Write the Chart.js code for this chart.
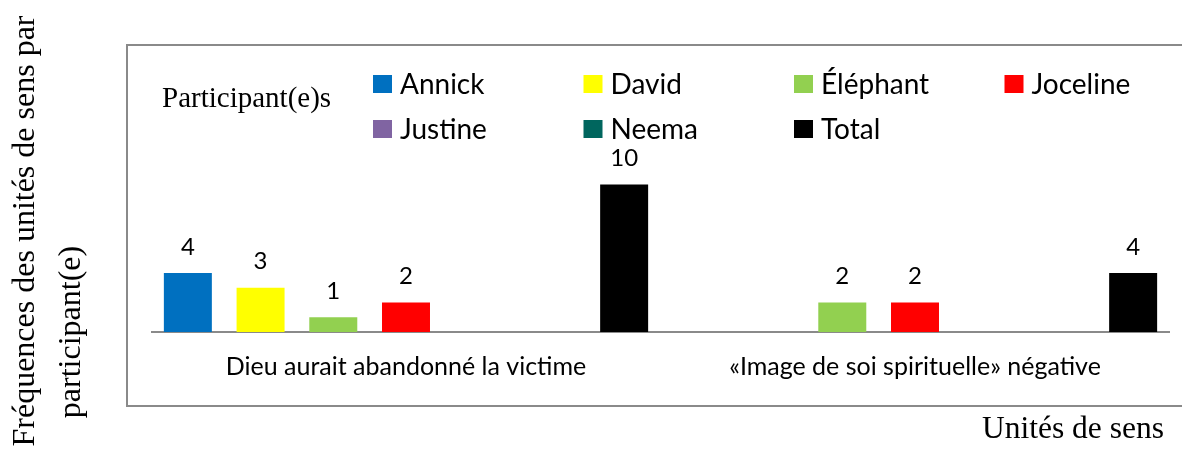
<!DOCTYPE html>
<html>
<head>
<meta charset="utf-8">
<title>Unités de sens</title>
<script src="https://cdn.jsdelivr.net/npm/chart.js@4.4.1/dist/chart.umd.min.js"></script>
<style>
  body { margin: 0; background: #fff; }
  #wrap { width: 1182px; height: 468px; position: relative; }
</style>
</head>
<body>
<div id="wrap"><canvas id="chart" width="1182" height="468"></canvas></div>
<script>
// chart values
const categories = ['Dieu aurait abandonné la victime', '«Image de soi spirituelle» négative'];
const participants = ['Annick', 'David', 'Éléphant', 'Joceline', 'Justine', 'Neema', 'Total'];
const annick = [4, 0];
const david = [3, 0];
const elephant = [1, 2];
const joceline = [2, 2];
const justine = [0, 0];
const neema = [0, 0];
const total = [10, 4];
const seriesValues = [annick, david, elephant, joceline, justine, neema, total];
const colors = ['#0070C0', '#FFFF00', '#92D050', '#FF0000', '#8064A2', '#00665E', '#000000'];

const legendTitle = 'Participant(e)s';
const yTitle = ['Fréquences des unités de sens par', 'participant(e)'];
const xTitle = 'Unités de sens';

const sans = 'Lato, "Open Sans", sans-serif';
const serif = '"Liberation Serif", "DejaVu Serif", serif';

// frame, titles and the column legend (Excel-like)
const decorPlugin = {
  id: 'decor',
  afterDraw(chart) {
    const ctx = chart.ctx;
    ctx.save();
    // outer box, right side runs off the picture
    ctx.strokeStyle = '#8a8a8a';
    ctx.lineWidth = 2;
    ctx.strokeRect(127, 45, 1100, 361);

    // legend
    ctx.fillStyle = '#000';
    ctx.font = '29px ' + serif;
    ctx.textBaseline = 'alphabetic';
    ctx.textAlign = 'left';
    ctx.fillText(legendTitle, 162, 107);

    ctx.font = '28px ' + sans;
    ctx.textBaseline = 'middle';
    chart.data.datasets.forEach((ds, i) => {
      const col = i % 4, row = Math.floor(i / 4);
      const x = 373 + col * 210.5;
      const y = 75 + row * 45;
      ctx.fillStyle = ds.backgroundColor;
      ctx.fillRect(x, y, 19, 18);
      ctx.fillStyle = '#000';
      ctx.fillText(ds.label, x + 27, y + 10);
    });

    // axis titles
    ctx.font = '32px ' + serif;
    ctx.textAlign = 'center';
    ctx.textBaseline = 'middle';
    ctx.save();
    ctx.translate(26, 231);
    ctx.rotate(-Math.PI / 2);
    ctx.fillText(yTitle[0], 0, 0);
    ctx.restore();
    ctx.save();
    ctx.translate(72, 332);
    ctx.rotate(-Math.PI / 2);
    ctx.fillText(yTitle[1], 0, 0);
    ctx.restore();

    ctx.font = '31.5px ' + serif;
    ctx.textAlign = 'left';
    ctx.fillText(xTitle, 982, 430);

    // value labels above the bars
    ctx.font = '24px ' + sans;
    ctx.textAlign = 'center';
    ctx.fillStyle = '#000';
    chart.data.datasets.forEach((ds, i) => {
      const meta = chart.getDatasetMeta(i);
      meta.data.forEach((bar, j) => {
        const v = ds.data[j];
        if (!v) return;
        ctx.fillText(String(v), bar.x, bar.y - 26);
      });
    });
    ctx.restore();
  }
};

new Chart(document.getElementById('chart'), {
  type: 'bar',
  data: {
    labels: categories,
    datasets: participants.map((name, i) => ({
      label: name,
      data: seriesValues[i],
      backgroundColor: colors[i],
      borderWidth: 0,
      categoryPercentage: 1.0,
      barPercentage: 0.66
    }))
  },
  options: {
    responsive: false,
    animation: false,
    devicePixelRatio: 1,
    layout: { padding: { left: 151.5, right: 12.5, top: 155, bottom: 86 } },
    plugins: {
      legend: { display: false },
      tooltip: { enabled: false }
    },
    scales: {
      y: { display: false, min: 0, max: 12 },
      x: {
        grid: { display: false, drawTicks: false },
        border: { display: true, color: '#8a8a8a', width: 2 },
        ticks: { color: '#000', font: { family: sans, size: 25 }, padding: 20, maxRotation: 0 },
        afterFit(scale) { scale.height = 50; }
      }
    }
  },
  plugins: [decorPlugin]
});
</script>
</body>
</html>
